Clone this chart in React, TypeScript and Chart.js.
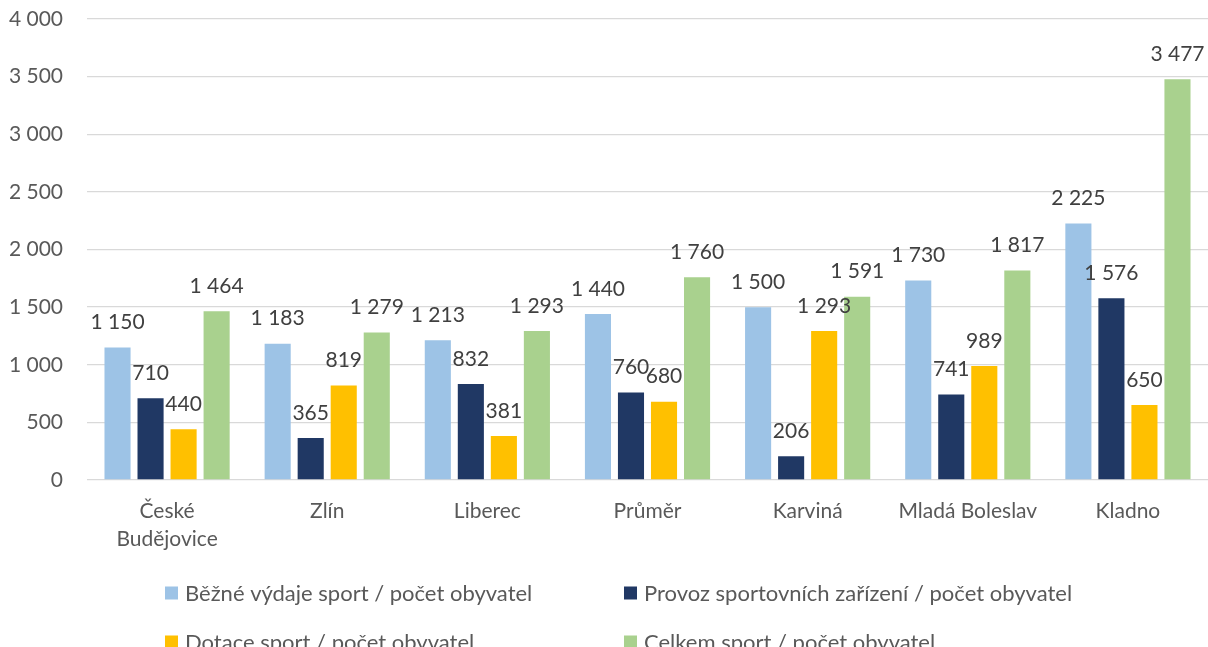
import { useEffect, useRef } from 'react';
import { Chart, registerables } from 'chart.js';

Chart.register(...registerables);

const categories: (string | string[])[] = [
  ['České', 'Budějovice'],
  'Zlín',
  'Liberec',
  'Průměr',
  'Karviná',
  'Mladá Boleslav',
  'Kladno',
];

const seriesNames = [
  'Běžné výdaje sport / počet obyvatel',
  'Provoz sportovních zařízení / počet obyvatel',
  'Dotace sport / počet obyvatel',
  'Celkem sport / počet obyvatel',
];

const bezneVydaje = [1150, 1183, 1213, 1440, 1500, 1730, 2225];
const provozZarizeni = [710, 365, 832, 760, 206, 741, 1576];
const dotaceSport = [440, 819, 381, 680, 1293, 989, 650];
const celkemSport = [1464, 1279, 1293, 1760, 1591, 1817, 3477];

const yTicks = { min: 0, max: 4000, step: 500 };

const colors = ['#9DC3E6', '#203864', '#FFC000', '#A9D18E'];
const FONT = 'Lato, "Open Sans", "Noto Sans", sans-serif';

const fmt = (v: number) =>
  String(Math.round(v)).replace(/\B(?=(\d{3})+(?!\d))/g, ' ');

const barLabels = {
  id: 'barLabels',
  afterDatasetsDraw(chart: any) {
    const ctx = chart.ctx;
    ctx.save();
    ctx.font = `21px ${FONT}`;
    ctx.fillStyle = '#404040';
    ctx.textAlign = 'center';
    ctx.textBaseline = 'middle';
    chart.data.datasets.forEach((ds: any, i: number) => {
      const meta = chart.getDatasetMeta(i);
      meta.data.forEach((bar: any, j: number) => {
        ctx.fillText(fmt(ds.data[j]), bar.x, bar.y - 25);
      });
    });
    ctx.restore();
  },
};

const columnLegend = {
  id: 'columnLegend',
  afterDraw(chart: any) {
    const ctx = chart.ctx;
    const cols = [165, 624];
    const rows = [593, 642];
    const box = 13;
    ctx.save();
    ctx.font = `22px ${FONT}`;
    ctx.textAlign = 'left';
    ctx.textBaseline = 'middle';
    chart.data.datasets.forEach((ds: any, i: number) => {
      const x = cols[i % 2];
      const y = rows[Math.floor(i / 2)];
      ctx.fillStyle = ds.backgroundColor;
      ctx.fillRect(x, y - box / 2, box, box);
      ctx.fillStyle = '#595959';
      ctx.fillText(ds.label, x + box + 7, y + 1);
    });
    ctx.restore();
  },
};

export default function App() {
  const ref = useRef<HTMLCanvasElement | null>(null);

  useEffect(() => {
    document.body.style.margin = '0';
    if (!ref.current) return;
    const values = [bezneVydaje, provozZarizeni, dotaceSport, celkemSport];
    const chart = new Chart(ref.current, {
      type: 'bar',
      data: {
        labels: categories,
        datasets: values.map((d, i) => ({
          label: seriesNames[i],
          data: d,
          backgroundColor: colors[i],
          borderWidth: 0,
          categoryPercentage: 0.825,
          barPercentage: 0.79,
        })),
      },
      options: {
        responsive: false,
        animation: false,
        layout: { padding: { top: 19, left: 0, right: 0, bottom: 0 } },
        plugins: {
          legend: { display: false },
          tooltip: { enabled: false },
        },
        scales: {
          x: {
            grid: { display: false, drawTicks: false },
            border: { display: false },
            ticks: {
              font: { family: FONT, size: 21, lineHeight: 1.33 },
              color: '#595959',
              padding: 17,
              maxRotation: 0,
              autoSkip: false,
            },
            afterFit(scale: any) {
              scale.height = 167;
            },
          },
          y: {
            min: yTicks.min,
            max: yTicks.max,
            grid: { color: '#D9D9D9', lineWidth: 1.3, drawTicks: false },
            border: { display: false },
            ticks: {
              stepSize: yTicks.step,
              font: { family: FONT, size: 21 },
              color: '#595959',
              padding: 24,
              callback: (v: any) => fmt(Number(v)),
            },
            afterFit(scale: any) {
              scale.width = 87;
              scale.paddingTop = 0;
            },
          },
        },
      },
      plugins: [barLabels, columnLegend],
    });
    return () => chart.destroy();
  }, []);

  return (
    <div style={{ width: 1208, height: 647 }}>
      <canvas ref={ref} width={1208} height={647} />
    </div>
  );
}
